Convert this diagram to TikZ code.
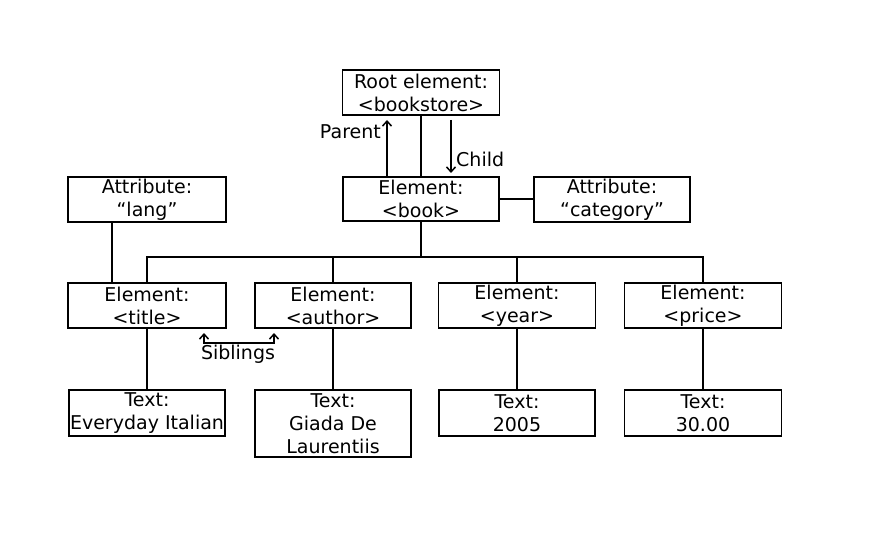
\documentclass[tikz,border=0pt]{standalone}
\usepackage{fontspec}
\setmainfont{DejaVu Sans}
\usetikzlibrary{arrows.meta}
\tikzset{
  box/.style={draw, line width=1.5pt, rectangle, inner sep=0pt, align=center,
    minimum height=45pt, font=\fontsize{19}{23}\selectfont},
  lbl/.style={inner sep=0pt, font=\fontsize{19}{23}\selectfont},
  conn/.style={line width=1.5pt},
  arr/.style={line width=1.5pt, -{Straight Barb[length=5pt,width=9pt]}},
}
\begin{document}
\begin{tikzpicture}[x=1pt,y=-1pt]
\useasboundingbox (0,0) rectangle (872,553);
% nodes
\node[box, minimum width=157pt] (root) at (421,92.5) {Root element:\\<bookstore>};
\node[box, minimum width=156pt, minimum height=44pt] (book) at (421,199) {Element:\\<book>};
\node[box, minimum width=158pt] (lang) at (147,199.5) {Attribute:\\“lang”};
\node[box, minimum width=156pt] (cat) at (612,199.5) {Attribute:\\“category”};
\node[box, minimum width=158pt] (title) at (147,305.5) {Element:\\<title>};
\node[box, minimum width=156pt] (author) at (333,305.5) {Element:\\<author>};
\node[box, minimum width=157pt] (year) at (517,305.5) {Element:\\<year>};
\node[box, minimum width=157pt] (price) at (703,305.5) {Element:\\<price>};
\node[box, minimum width=156pt, minimum height=46pt] (t1) at (147,413) {Text:\\Everyday Italian};
\node[box, minimum width=156pt, minimum height=67pt] (t2) at (333,423.5) {Text:\\Giada De\\Laurentiis};
\node[box, minimum width=156pt, minimum height=46pt] (t3) at (517,413) {Text:\\2005};
\node[box, minimum width=157pt, minimum height=46pt] (t4) at (703,413) {Text:\\30.00};
% labels
\node[lbl, anchor=east] (parent) at (381,132) {Parent};
\node[lbl, anchor=west] (child) at (456,159) {Child};
\node[lbl] (sib) at (238,354) {Siblings};
% coordinates
\coordinate (bus) at (421,257);
\coordinate (pa1) at (387,177);
\coordinate (pa2) at (387,120);
\coordinate (ch1) at (451,120);
\coordinate (ch2) at (451,173);
\coordinate (s1) at (204,333);
\coordinate (s2) at (274,333);
\coordinate (sb) at (204,343);
\coordinate (lx) at (112,0);
% connectors
\draw[conn] (root.south) -- (root.south |- book.north);
\draw[conn] (book.south -| bus) -- (bus);
\draw[conn] (title.north) |- (bus) -| (price.north);
\draw[conn] (author.north) -- (author.north |- bus);
\draw[conn] (year.north) -- (year.north |- bus);
\draw[conn] (book.east) -- (cat.west |- book.east);
\draw[conn] (lang.south -| lx) -- (title.north -| lx);
\draw[conn] (title.south) -- (title.south |- t1.north);
\draw[conn] (author.south) -- (author.south |- t2.north);
\draw[conn] (year.south) -- (year.south |- t3.north);
\draw[conn] (price.south) -- (price.south |- t4.north);
\draw[arr] (pa1) -- (pa2);
\draw[arr] (ch1) -- (ch2);
\draw[line width=1.5pt, {Straight Barb[length=5pt,width=9pt]}-{Straight Barb[length=5pt,width=9pt]}] (s1) -- (sb) -- (sb -| s2) -- (s2);
\end{tikzpicture}
\end{document}
